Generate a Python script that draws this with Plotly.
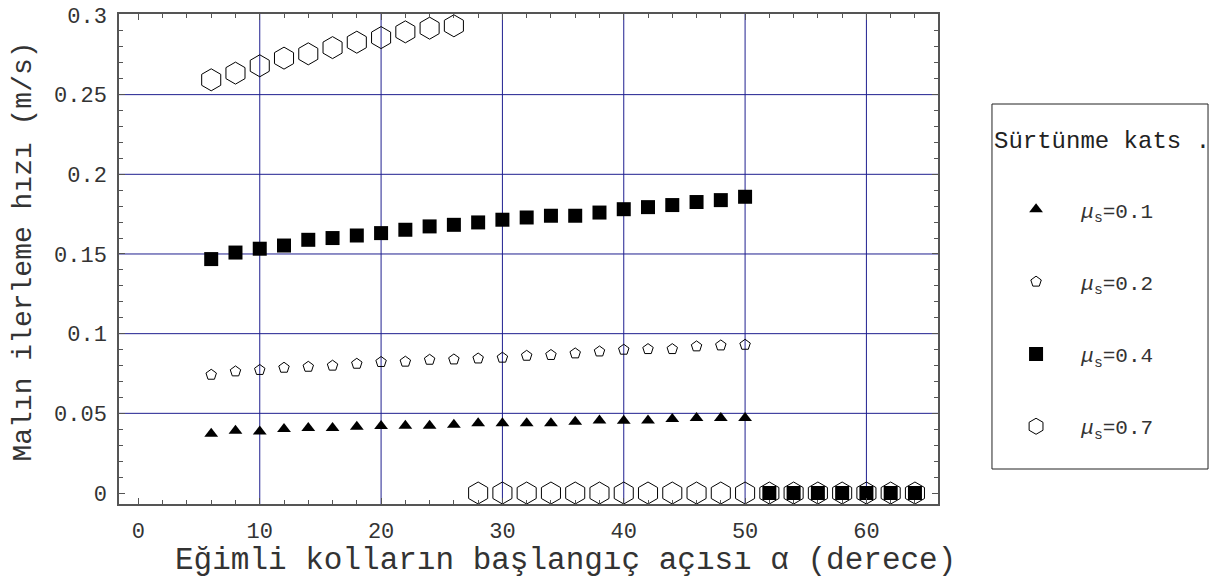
import plotly.graph_objects as go

# ---- data ----
angles_a = [6, 8, 10, 12, 14, 16, 18, 20, 22, 24, 26, 28, 30, 32, 34, 36, 38, 40, 42, 44, 46, 48, 50]
v_mu01 = [0.0372, 0.0391, 0.0386, 0.0401, 0.0408, 0.0408, 0.0416, 0.0420, 0.0422, 0.0422, 0.0428, 0.0437,
          0.0437, 0.0437, 0.0437, 0.0447, 0.0455, 0.0453, 0.0455, 0.0464, 0.0470, 0.0470, 0.0470]
v_mu02 = [0.0742, 0.0763, 0.0772, 0.0786, 0.0792, 0.0799, 0.0811, 0.0822, 0.0824, 0.0836, 0.0838, 0.0844,
          0.0849, 0.0861, 0.0866, 0.0876, 0.0888, 0.0899, 0.0903, 0.0903, 0.0920, 0.0926, 0.0930]
angles_b = [6, 8, 10, 12, 14, 16, 18, 20, 22, 24, 26, 28, 30, 32, 34, 36, 38, 40, 42, 44, 46, 48, 50,
            52, 54, 56, 58, 60, 62, 64]
v_mu04 = [0.1468, 0.1509, 0.1533, 0.1553, 0.1589, 0.1600, 0.1616, 0.1631, 0.1652, 0.1673, 0.1683, 0.1698,
          0.1715, 0.1729, 0.1740, 0.1740, 0.1760, 0.1781, 0.1794, 0.1807, 0.1826, 0.1838, 0.1859,
          0, 0, 0, 0, 0, 0, 0]
v_mu07 = [0.2593, 0.2635, 0.2681, 0.2729, 0.2756, 0.2795, 0.2829, 0.2858, 0.2894, 0.2917, 0.2932,
          0, 0, 0, 0, 0, 0, 0, 0, 0, 0, 0, 0, 0, 0, 0, 0, 0, 0, 0]

series_names = ["<i>μ</i><sub>s</sub>=0.1", "<i>μ</i><sub>s</sub>=0.2",
                "<i>μ</i><sub>s</sub>=0.4", "<i>μ</i><sub>s</sub>=0.7"]
legend_title = "Sürtünme kats ."
x_title = "Eğimli kolların başlangıç açısı α (derece)"
y_title = "Malın ilerleme hızı (m/s)"
x_ticks = [0, 10, 20, 30, 40, 50, 60]
y_ticks = [0, 0.05, 0.1, 0.15, 0.2, 0.25, 0.3]
y_tick_text = ["0", "0.05", "0.1", "0.15", "0.2", "0.25", "0.3"]
x_grid = [10, 20, 30, 40, 50, 60]
y_grid = [0.05, 0.1, 0.15, 0.2, 0.25]

FONT = "Liberation Mono, Courier New, monospace"
GRID = "#1f1f8f"
FRAME = "#555555"
NB = "\u00a0\u00a0"

fig = go.Figure()
fig.add_trace(go.Scatter(x=angles_a, y=v_mu01, mode="markers", name=NB + series_names[0], legendgroup="a",
                         legendrank=1,
                         marker=dict(symbol="triangle-up", size=12, color="black")))
fig.add_trace(go.Scatter(x=angles_a, y=v_mu02, mode="markers", name=NB + series_names[1], legendgroup="b",
                         legendrank=2,
                         marker=dict(symbol="pentagon-open", size=11, color="black", line=dict(width=1))))
fig.add_trace(go.Scatter(x=angles_b, y=v_mu07, mode="markers", name=NB + series_names[3], legendgroup="d",
                         legendrank=4,
                         marker=dict(symbol="hexagon-open", size=22, color="black", line=dict(width=1))))
fig.add_trace(go.Scatter(x=angles_b, y=v_mu04, mode="markers", name=NB + series_names[2], legendgroup="c",
                         legendrank=3,
                         marker=dict(symbol="square", size=14, color="black")))

shapes = []
for gx in x_grid:
    shapes.append(dict(type="line", xref="x", yref="paper", x0=gx, x1=gx, y0=0, y1=1,
                       line=dict(color=GRID, width=1), layer="below"))
for gy in y_grid:
    shapes.append(dict(type="line", xref="paper", yref="y", x0=0, x1=1, y0=gy, y1=gy,
                       line=dict(color=GRID, width=1), layer="below"))
# legend frame
shapes.append(dict(type="rect", xref="paper", yref="paper", x0=1.0659, x1=1.3297, y0=0.0714, y1=0.8163,
                   line=dict(color="#222222", width=1), fillcolor="rgba(0,0,0,0)"))

fig.update_layout(
    width=1211, height=581,
    margin=dict(l=119, r=273, t=14, b=77, autoexpand=False),
    paper_bgcolor="white", plot_bgcolor="white",
    font=dict(family=FONT, size=22, color="#333333"),
    shapes=shapes,
    showlegend=True,
    legend=dict(
        x=1.066, y=0.6424, xanchor="left", yanchor="top",
        borderwidth=0, bgcolor="rgba(0,0,0,0)",
        font=dict(family=FONT, size=21, color="#333333"),
        tracegroupgap=42, itemsizing="trace", indentation=24,
    ),
    annotations=[
        dict(text=legend_title, xref="paper", yref="paper",
             x=1.0659, y=0.7408, xanchor="left", yanchor="middle", showarrow=False,
             font=dict(family=FONT, size=24, color="#222222")),
        dict(text=x_title, xref="paper", yref="paper",
             x=0.5446, y=-0.1143, xanchor="center", yanchor="middle", showarrow=False,
             font=dict(family=FONT, size=31, color="#333333")),
        dict(text=y_title, xref="paper", yref="paper",
             x=-0.117, y=0.5157, xanchor="center", yanchor="middle", showarrow=False, textangle=-90,
             font=dict(family=FONT, size=28, color="#333333")),
    ],
)
fig.update_xaxes(
    range=[-1.6, 65.9], tickvals=x_ticks, showgrid=False, zeroline=False,
    ticks="inside", ticklen=6, tickcolor=FRAME, tickwidth=1,
    minor=dict(dtick=2, tick0=0, ticks="inside", ticklen=4, tickcolor=FRAME, showgrid=False),
    showline=True, linecolor=FRAME, linewidth=1.5, mirror="ticks",
    ticklabelstandoff=6,
)
fig.update_yaxes(
    range=[-0.0069, 0.3006], tickvals=y_ticks, ticktext=y_tick_text, showgrid=False, zeroline=False,
    ticks="inside", ticklen=6, tickcolor=FRAME, tickwidth=1,
    minor=dict(dtick=0.01, tick0=0, ticks="inside", ticklen=4, tickcolor=FRAME, showgrid=False),
    showline=True, linecolor=FRAME, linewidth=1.5, mirror="ticks",
    ticklabelstandoff=6,
)

fig.write_html("out.html", config={"displayModeBar": False},
               post_script="document.body.style.margin='0';document.body.style.overflow='hidden';")
